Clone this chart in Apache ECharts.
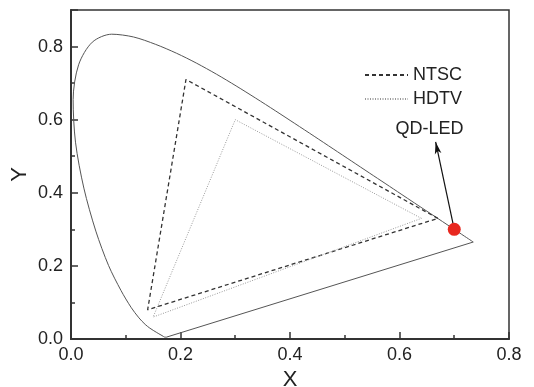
<!DOCTYPE html>
<html>
<head>
<meta charset="utf-8">
<script src="https://cdn.jsdelivr.net/npm/echarts@6/dist/echarts.min.js"></script>
<style>
  html, body { margin: 0; padding: 0; background: #fff; }
  #main { width: 534px; height: 387px; }
</style>
</head>
<body>
<div id="main"></div>
<script>
// CIE 1931 spectral locus (x, y)
var locus = [
  [0.1741, 0.0050], [0.1714, 0.0051], [0.1689, 0.0069], [0.1644, 0.0109],
  [0.1566, 0.0177], [0.1440, 0.0297], [0.1355, 0.0399], [0.1241, 0.0578],
  [0.1096, 0.0868], [0.0913, 0.1327], [0.0687, 0.2007], [0.0454, 0.2950],
  [0.0235, 0.4127], [0.0082, 0.5384], [0.0039, 0.6548], [0.0139, 0.7502],
  [0.0389, 0.8120], [0.0743, 0.8338], [0.1142, 0.8262], [0.1547, 0.8059],
  [0.1929, 0.7816], [0.2296, 0.7543], [0.2658, 0.7243], [0.3016, 0.6923],
  [0.3373, 0.6589], [0.3731, 0.6245], [0.4087, 0.5896], [0.4441, 0.5547],
  [0.4788, 0.5202], [0.5125, 0.4866], [0.5448, 0.4544], [0.5752, 0.4242],
  [0.6029, 0.3965], [0.6270, 0.3725], [0.6482, 0.3514], [0.6658, 0.3340],
  [0.6915, 0.3083], [0.7079, 0.2920], [0.7190, 0.2809], [0.7260, 0.2740],
  [0.7347, 0.2653]
];
// purple line closing the locus
var purpleLine = [[0.7347, 0.2653], [0.1741, 0.0050]];
var ntsc = [[0.67, 0.33], [0.21, 0.71], [0.14, 0.08], [0.67, 0.33]];
var hdtv = [[0.64, 0.33], [0.30, 0.60], [0.15, 0.06], [0.64, 0.33]];
var qdLed = [[0.70, 0.30]];
var arrowTip = [0.666, 0.539];
var qdLabelPos = [[0.655, 0.548]];
var xTicks = [0, 0.8, 0.2];  // min, max, interval
var yTicks = [0, 0.9, 0.2];

var font = 'Liberation Sans, Arial, sans-serif';
var chart = echarts.init(document.getElementById('main'));

var option = {
  animation: false,
  grid: { left: 71, right: 25, top: 10, bottom: 48, outerBoundsMode: 'none',
    show: true, borderColor: '#333', borderWidth: 1.5 },
  legend: {
    data: ['NTSC', 'HDTV'],
    orient: 'vertical',
    left: 364, top: 66, padding: 0,
    itemWidth: 43, itemHeight: 10, itemGap: 6,
    itemStyle: { opacity: 0 },
    textStyle: { fontFamily: font, fontSize: 18, color: '#222' }
  },
  xAxis: {
    type: 'value', min: xTicks[0], max: xTicks[1], interval: xTicks[2],
    name: 'X', nameLocation: 'middle', nameGap: 30, nameMoveOverlap: false,
    nameTextStyle: { fontFamily: font, fontSize: 22, color: '#222' },
    axisLine: { lineStyle: { color: '#333', width: 2 } },
    axisTick: { inside: true, length: 7, lineStyle: { color: '#333', width: 1.5 } },
    minorTick: { show: true, splitNumber: 2, length: 4, lineStyle: { color: '#333', width: 1.5 } },
    splitLine: { show: false },
    axisLabel: { fontFamily: font, fontSize: 18, color: '#222', margin: 7,
      formatter: function (v) { return v.toFixed(1); } }
  },
  yAxis: {
    type: 'value', min: yTicks[0], max: yTicks[1], interval: yTicks[2],
    name: 'Y', nameLocation: 'middle', nameGap: 40, nameMoveOverlap: false,
    nameTextStyle: { fontFamily: font, fontSize: 22, color: '#222' },
    axisLine: { lineStyle: { color: '#333', width: 2 } },
    axisTick: { inside: true, length: 7, lineStyle: { color: '#333', width: 1.5 } },
    minorTick: { show: true, splitNumber: 2, length: 4, lineStyle: { color: '#333', width: 1.5 } },
    splitLine: { show: false },
    axisLabel: { fontFamily: font, fontSize: 18, color: '#222', margin: 8, showMaxLabel: false,
      formatter: function (v) { return v.toFixed(1); } }
  },
  series: [
    {
      name: 'locus', type: 'line', data: locus, smooth: 0.3, symbol: 'none',
      lineStyle: { color: '#555', width: 1 }, silent: true
    },
    {
      name: 'purple', type: 'line', data: purpleLine, symbol: 'none',
      lineStyle: { color: '#555', width: 1 }, silent: true
    },
    {
      name: 'NTSC', type: 'line', data: ntsc, symbol: 'none',
      lineStyle: { color: '#333', width: 1.3, type: [4, 3] }, itemStyle: { color: '#333' }
    },
    {
      name: 'HDTV', type: 'line', data: hdtv, symbol: 'none',
      lineStyle: { color: '#999', width: 1, type: [1, 1.5] }, itemStyle: { color: '#999' }
    },
    {
      name: 'QD-LED', type: 'scatter', data: qdLed, symbolSize: 13, z: 5,
      itemStyle: { color: '#e8281f', opacity: 1 },
      markLine: {
        silent: true, symbol: ['none', 'arrow'], symbolSize: [5, 12],
        label: { show: false },
        lineStyle: { color: '#111', width: 1.2, type: 'solid' },
        data: [[{ coord: qdLed[0] }, { coord: arrowTip }]]
      }
    },
    {
      name: 'label', type: 'scatter', data: qdLabelPos, symbolSize: 1, silent: true,
      itemStyle: { color: 'rgba(0,0,0,0)', opacity: 1 },
      label: { show: true, position: 'top', distance: 0, formatter: 'QD-LED',
        fontFamily: font, fontSize: 18, color: '#222', textBorderWidth: 0 }
    }
  ]
};
chart.setOption(option);
</script>
</body>
</html>
